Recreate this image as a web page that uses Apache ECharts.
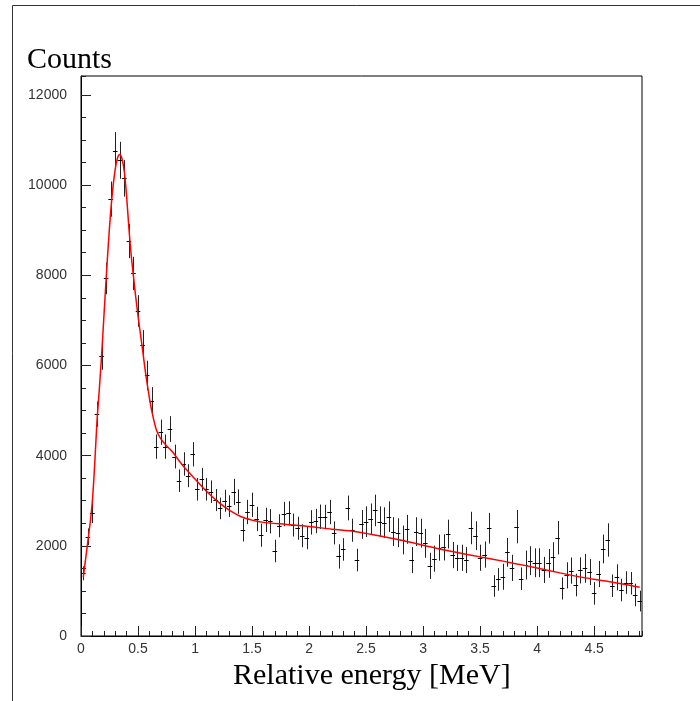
<!DOCTYPE html>
<html>
<head>
<meta charset="utf-8">
<script src="https://cdn.jsdelivr.net/npm/echarts@6/dist/echarts.min.js"></script>
<style>
  html, body { margin: 0; padding: 0; background: #fff; }
  #chart { width: 700px; height: 701px; }
</style>
</head>
<body>
<div id="chart"></div>
<script>
// histogram binning (MeV)
var binStart = 0;
var binWidth = 0.04;

// counts per bin
var counts = [
  1390, 2200, 2720, 4920, 6220, 7930, 9690, 10760, 10550, 10150, 8760, 8040, 7210, 6450, 5780, 5215,
  4200, 4520, 4200, 4590, 3980, 3445, 3815, 3555, 4030, 3255, 3475, 3255, 3200, 3015, 2830, 3000, 2880, 3195,
  2980, 2350, 2750, 2910, 2595, 2235, 2575, 2545, 1885, 2445, 2705, 2720, 2460, 2390, 2225, 2180,
  2520, 2550, 2645, 2640, 2750, 2285, 1765, 1920, 2840, 2345, 1685,
  2475, 2535, 2600, 2785, 2535, 2515, 2645, 2315, 2290, 2130, 2365, 1685, 2315, 2280, 2055, 1555,
  1715, 1960, 1965, 2260, 1795, 1730, 1735, 1685, 2395, 2225, 1735, 1805, 2390, 1110, 1255,
  1315, 1855, 1510, 2425, 1270, 1575, 1670, 1625, 1625, 1465, 1610, 1760, 2180, 1055, 1345, 1450,
  1130, 1455, 1500, 1420, 945, 1375, 1930, 2130, 1115, 1300, 1020, 1185, 1170, 910, 775
];

// error bar half lengths
var errors = [
  155, 185, 215, 280, 315, 350, 390, 415, 410, 405, 380, 370, 350, 335, 325, 305,
  270, 280, 270, 285, 265, 250, 260, 255, 270, 250, 255, 250, 250, 245, 240, 245, 240, 290,
  270, 255, 270, 270, 270, 255, 270, 270, 250, 255, 270, 270, 255, 255, 255, 255,
  270, 270, 270, 270, 270, 255, 270, 250, 275, 255, 250,
  320, 340, 340, 350, 340, 340, 340, 320, 320, 320, 320, 290, 320, 320, 320, 290,
  290, 290, 290, 320, 290, 290, 290, 290, 360, 320, 290, 290, 340, 240, 250,
  290, 320, 290, 370, 250, 320, 320, 320, 320, 290, 320, 320, 370, 245, 290, 290,
  250, 290, 320, 290, 250, 290, 320, 370, 250, 290, 250, 250, 250, 250, 230
];

// fitted curve (red)
var fitE = [
  0.02, 0.04, 0.06, 0.08, 0.10, 0.12, 0.14, 0.16, 0.18, 0.20, 0.22, 0.24, 0.26, 0.28, 0.30,
  0.32, 0.34, 0.36, 0.38, 0.40, 0.42, 0.44, 0.46, 0.48, 0.50, 0.52, 0.54, 0.56, 0.58, 0.60,
  0.62, 0.66, 0.70, 0.75, 0.80, 0.85, 0.90, 0.95, 1.00, 1.10, 1.20, 1.30, 1.40, 1.50, 1.60,
  1.80, 2.00, 2.20, 2.40, 2.60, 2.80, 3.00, 3.20, 3.40, 3.60, 3.80, 4.00, 4.20, 4.40, 4.60,
  4.80, 4.90
];
var fitCounts = [
  1300, 1700, 2100, 2500, 3000, 3800, 4750, 5450, 6200, 7050, 7900, 8700, 9400, 9950, 10350,
  10600, 10680, 10580, 10300, 9750, 9050, 8450, 7980, 7520, 7100, 6720, 6350, 5950, 5600, 5280,
  5000, 4580, 4370, 4220, 4090, 3920, 3760, 3620, 3480, 3210, 2980, 2790, 2650, 2570, 2520,
  2475, 2430, 2370, 2320, 2230, 2130, 2015, 1900, 1800, 1710, 1610, 1510, 1400, 1300, 1220,
  1130, 1080
];

var xTicksMajor = 0.5, xTicksMinor = 0.1;
var yTicksMajor = 2000, yTicksMinor = 500;
var xMax = 4.92, yMax = 12420;

var points = counts.map(function (c, i) {
  return [binStart + binWidth * (i + 0.5), c, errors[i]];
});
var fitLine = fitE.map(function (e, i) { return [e, fitCounts[i]]; });

var chart = echarts.init(document.getElementById('chart'));
var labelFont = { color: '#333', fontSize: 14, fontFamily: 'Liberation Sans' };

var option = {
  animation: false,
  grid: {
    left: 81, top: 76, width: 561, height: 560,
    show: true, borderColor: '#000', borderWidth: 1, backgroundColor: '#fff'
  },
  xAxis: [
    {
      type: 'value', min: 0, max: xMax, interval: xTicksMinor, position: 'bottom',
      axisLine: { onZero: false, lineStyle: { color: '#000', width: 1 } },
      axisTick: { inside: true, length: 5, lineStyle: { color: '#222' } },
      axisLabel: { show: false },
      splitLine: { show: false }
    },
    {
      type: 'value', min: 0, max: xMax, interval: xTicksMajor, position: 'bottom',
      axisLine: { show: false, onZero: false },
      axisTick: { inside: true, length: 10, lineStyle: { color: '#222' } },
      axisLabel: Object.assign({ margin: 6, showMaxLabel: false,
        formatter: function (v) { return String(+v.toFixed(2)); } }, labelFont),
      splitLine: { show: false }
    }
  ],
  yAxis: [
    {
      type: 'value', min: 0, max: yMax, interval: yTicksMinor, position: 'left',
      axisLine: { show: true, onZero: false, lineStyle: { color: '#000', width: 1 } },
      axisTick: { show: true, inside: true, length: 5, lineStyle: { color: '#222' } },
      axisLabel: { show: false },
      splitLine: { show: false }
    },
    {
      type: 'value', min: 0, max: yMax, interval: yTicksMajor, position: 'left',
      axisLine: { show: false, onZero: false },
      axisTick: { show: true, inside: true, length: 10, lineStyle: { color: '#222' } },
      axisLabel: Object.assign({ margin: 14, showMaxLabel: false,
        formatter: function (v) { return String(v); } }, labelFont),
      splitLine: { show: false }
    }
  ],
  graphic: [
    { type: 'rect', silent: true, z: -10,
      shape: { x: 12.5, y: 5.5, width: 760, height: 760 },
      style: { fill: 'none', stroke: '#333', lineWidth: 1 } },
    { type: 'text', left: 27, top: 45,
      style: { text: 'Counts', font: '30px "Liberation Serif"', fill: '#000' } },
    { type: 'text', left: 233, top: 661,
      style: { text: 'Relative energy [MeV]', font: '30px "Liberation Serif"', fill: '#000' } }
  ],
  series: [
    {
      type: 'custom',
      xAxisIndex: 0, yAxisIndex: 0,
      data: points,
      z: 2,
      renderItem: function (params, api) {
        var x = api.value(0), y = api.value(1), e = api.value(2);
        var top = api.coord([x, y + e]);
        var bot = api.coord([x, y - e]);
        var l = api.coord([x - binWidth / 2, y]);
        var r = api.coord([x + binWidth / 2, y]);
        var px = Math.round(top[0]) + 0.5;
        var py = Math.round(l[1]) + 0.5;
        return {
          type: 'group',
          children: [
            { type: 'line', shape: { x1: px, y1: top[1], x2: px, y2: bot[1] },
              style: { stroke: '#222', lineWidth: 1 } },
            { type: 'line', shape: { x1: l[0], y1: py, x2: r[0], y2: py },
              style: { stroke: '#000', lineWidth: 1 } }
          ]
        };
      }
    },
    {
      type: 'line',
      xAxisIndex: 0, yAxisIndex: 0,
      data: fitLine,
      smooth: 0.3,
      showSymbol: false,
      z: 5,
      lineStyle: { color: '#ff0000', width: 1.5 }
    }
  ]
};

chart.setOption(option);
</script>
</body>
</html>
